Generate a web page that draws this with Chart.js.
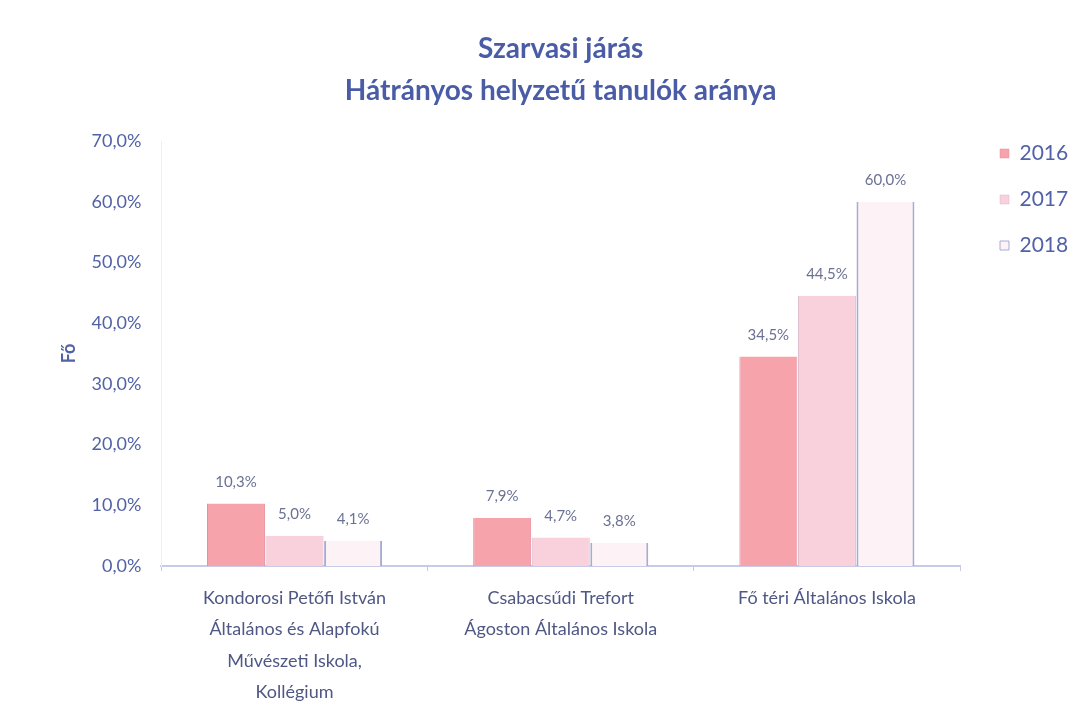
<!DOCTYPE html>
<html>
<head>
<meta charset="utf-8">
<script src="https://cdn.jsdelivr.net/npm/chart.js@4.4.0/dist/chart.umd.min.js"></script>
<style>
  html, body { margin: 0; padding: 0; background: #fff; }
  #wrap { width: 1087px; height: 716px; }
</style>
</head>
<body>
<div id="wrap"><canvas id="bar-chart-area" width="1087" height="716"></canvas></div>
<script>
var arrLabel = [
    ["Kondorosi Petőfi István", "Általános és Alapfokú", "Művészeti Iskola,", "Kollégium"],
    ["Csabacsűdi Trefort", "Ágoston Általános Iskola"],
    "Fő téri Általános Iskola"
];
var arrYears = ["2016", "2017", "2018"];
var arr2016 = [10.3, 7.9, 34.5];
var arr2017 = [5.0, 4.7, 44.5];
var arr2018 = [4.1, 3.8, 60.0];

var textBlue = "#5262a6";

function pct(v) {
    return v.toFixed(1).replace(".", ",") + "%";
}

// value labels above each bar
var barLabels = {
    id: "barLabels",
    afterDatasetsDraw: function (chart) {
        var ctx = chart.ctx;
        ctx.save();
        ctx.font = "15px Lato";
        ctx.fillStyle = "#6b7194";
        ctx.textAlign = "center";
        ctx.textBaseline = "bottom";
        chart.data.datasets.forEach(function (ds, i) {
            chart.getDatasetMeta(i).data.forEach(function (bar, j) {
                ctx.fillText(pct(ds.data[j]), bar.x, bar.y - 14);
            });
        });
        ctx.restore();
    }
};

// legend: fixed width, moved down/right next to the plot
var legendPlace = {
    id: "legendPlace",
    afterInit: function (chart) {
        var lg = chart.legend;
        var f = lg.fit;
        lg.fit = function () {
            f.call(this);
            this.width = 127;
        };
    },
    afterLayout: function (chart) {
        var lg = chart.legend;
        var dx = 15, dy = 90;
        lg.left += dx; lg.right += dx;
        lg.top += dy; lg.bottom += dy;
    }
};

var configBar = {
    type: 'bar',
    data: {
        labels: arrLabel,
        datasets: [
        {
            label: arrYears[0],
            data: arr2016,
            backgroundColor: "#f6a3ab",
            borderColor: "#e98f9c",
            borderWidth: {left: 1, right: 1, top: 0, bottom: 0}
        }, {
            label: arrYears[1],
            data: arr2017,
            backgroundColor: "#f8d1dc",
            borderColor: "#d9b6c8",
            borderWidth: {left: 1, right: 1, top: 0, bottom: 0}
        }, {
            label: arrYears[2],
            data: arr2018,
            backgroundColor: "#fdf2f5",
            borderColor: "#a7abd2",
            borderWidth: {left: 2, right: 2, top: 0, bottom: 0}
        }]
    },
    options: {
        responsive: false,
        animation: false,
        layout: { padding: { left: 40, right: 0, top: 28, bottom: 2 } },
        datasets: {
            bar: { categoryPercentage: 0.66, barPercentage: 0.99 }
        },
        scales: {
            x: {
                offset: true,
                grid: { display: true, drawOnChartArea: false, drawTicks: true, tickLength: 5, color: "#c9cbe6" },
                border: { display: true, color: "#c9cbe6", width: 2 },
                ticks: {
                    color: "#4f5785",
                    font: { family: "Lato", size: 18, lineHeight: 1.75 },
                    maxRotation: 0,
                    padding: 11
                },
                afterFit: function (scale) {
                    scale.height -= 5;
                }
            },
            y: {
                min: 0,
                max: 70,
                grid: { display: false },
                border: { display: true, color: "#eeeef6" },
                ticks: {
                    stepSize: 10,
                    color: textBlue,
                    padding: 12,
                    font: { family: "Lato", size: 18 },
                    callback: function (v) { return pct(v); }
                },
                title: {
                    display: true,
                    text: "Fő",
                    color: textBlue,
                    font: { family: "Lato", size: 18, weight: "bold" },
                    padding: { top: 18, bottom: 0 }
                }
            }
        },
        plugins: {
            title: {
                display: true,
                fullSize: false,
                text: ["Szarvasi járás", "Hátrányos helyzetű tanulók aránya"],
                color: "#4a5ca6",
                font: { family: "Lato", size: 28, weight: "bold", lineHeight: 1.5 },
                padding: { top: 0, bottom: 29 }
            },
            legend: {
                position: 'right',
                align: 'start',
                labels: {
                    color: textBlue,
                    font: { family: "Lato", size: 21 },
                    boxWidth: 9,
                    boxHeight: 9,
                    padding: 25
                }
            },
            tooltip: { enabled: false }
        }
    },
    plugins: [barLabels, legendPlace]
};

var myChartBar = document.getElementById("bar-chart-area").getContext("2d");
var myBar = new Chart(myChartBar, configBar);
</script>
</body>
</html>
